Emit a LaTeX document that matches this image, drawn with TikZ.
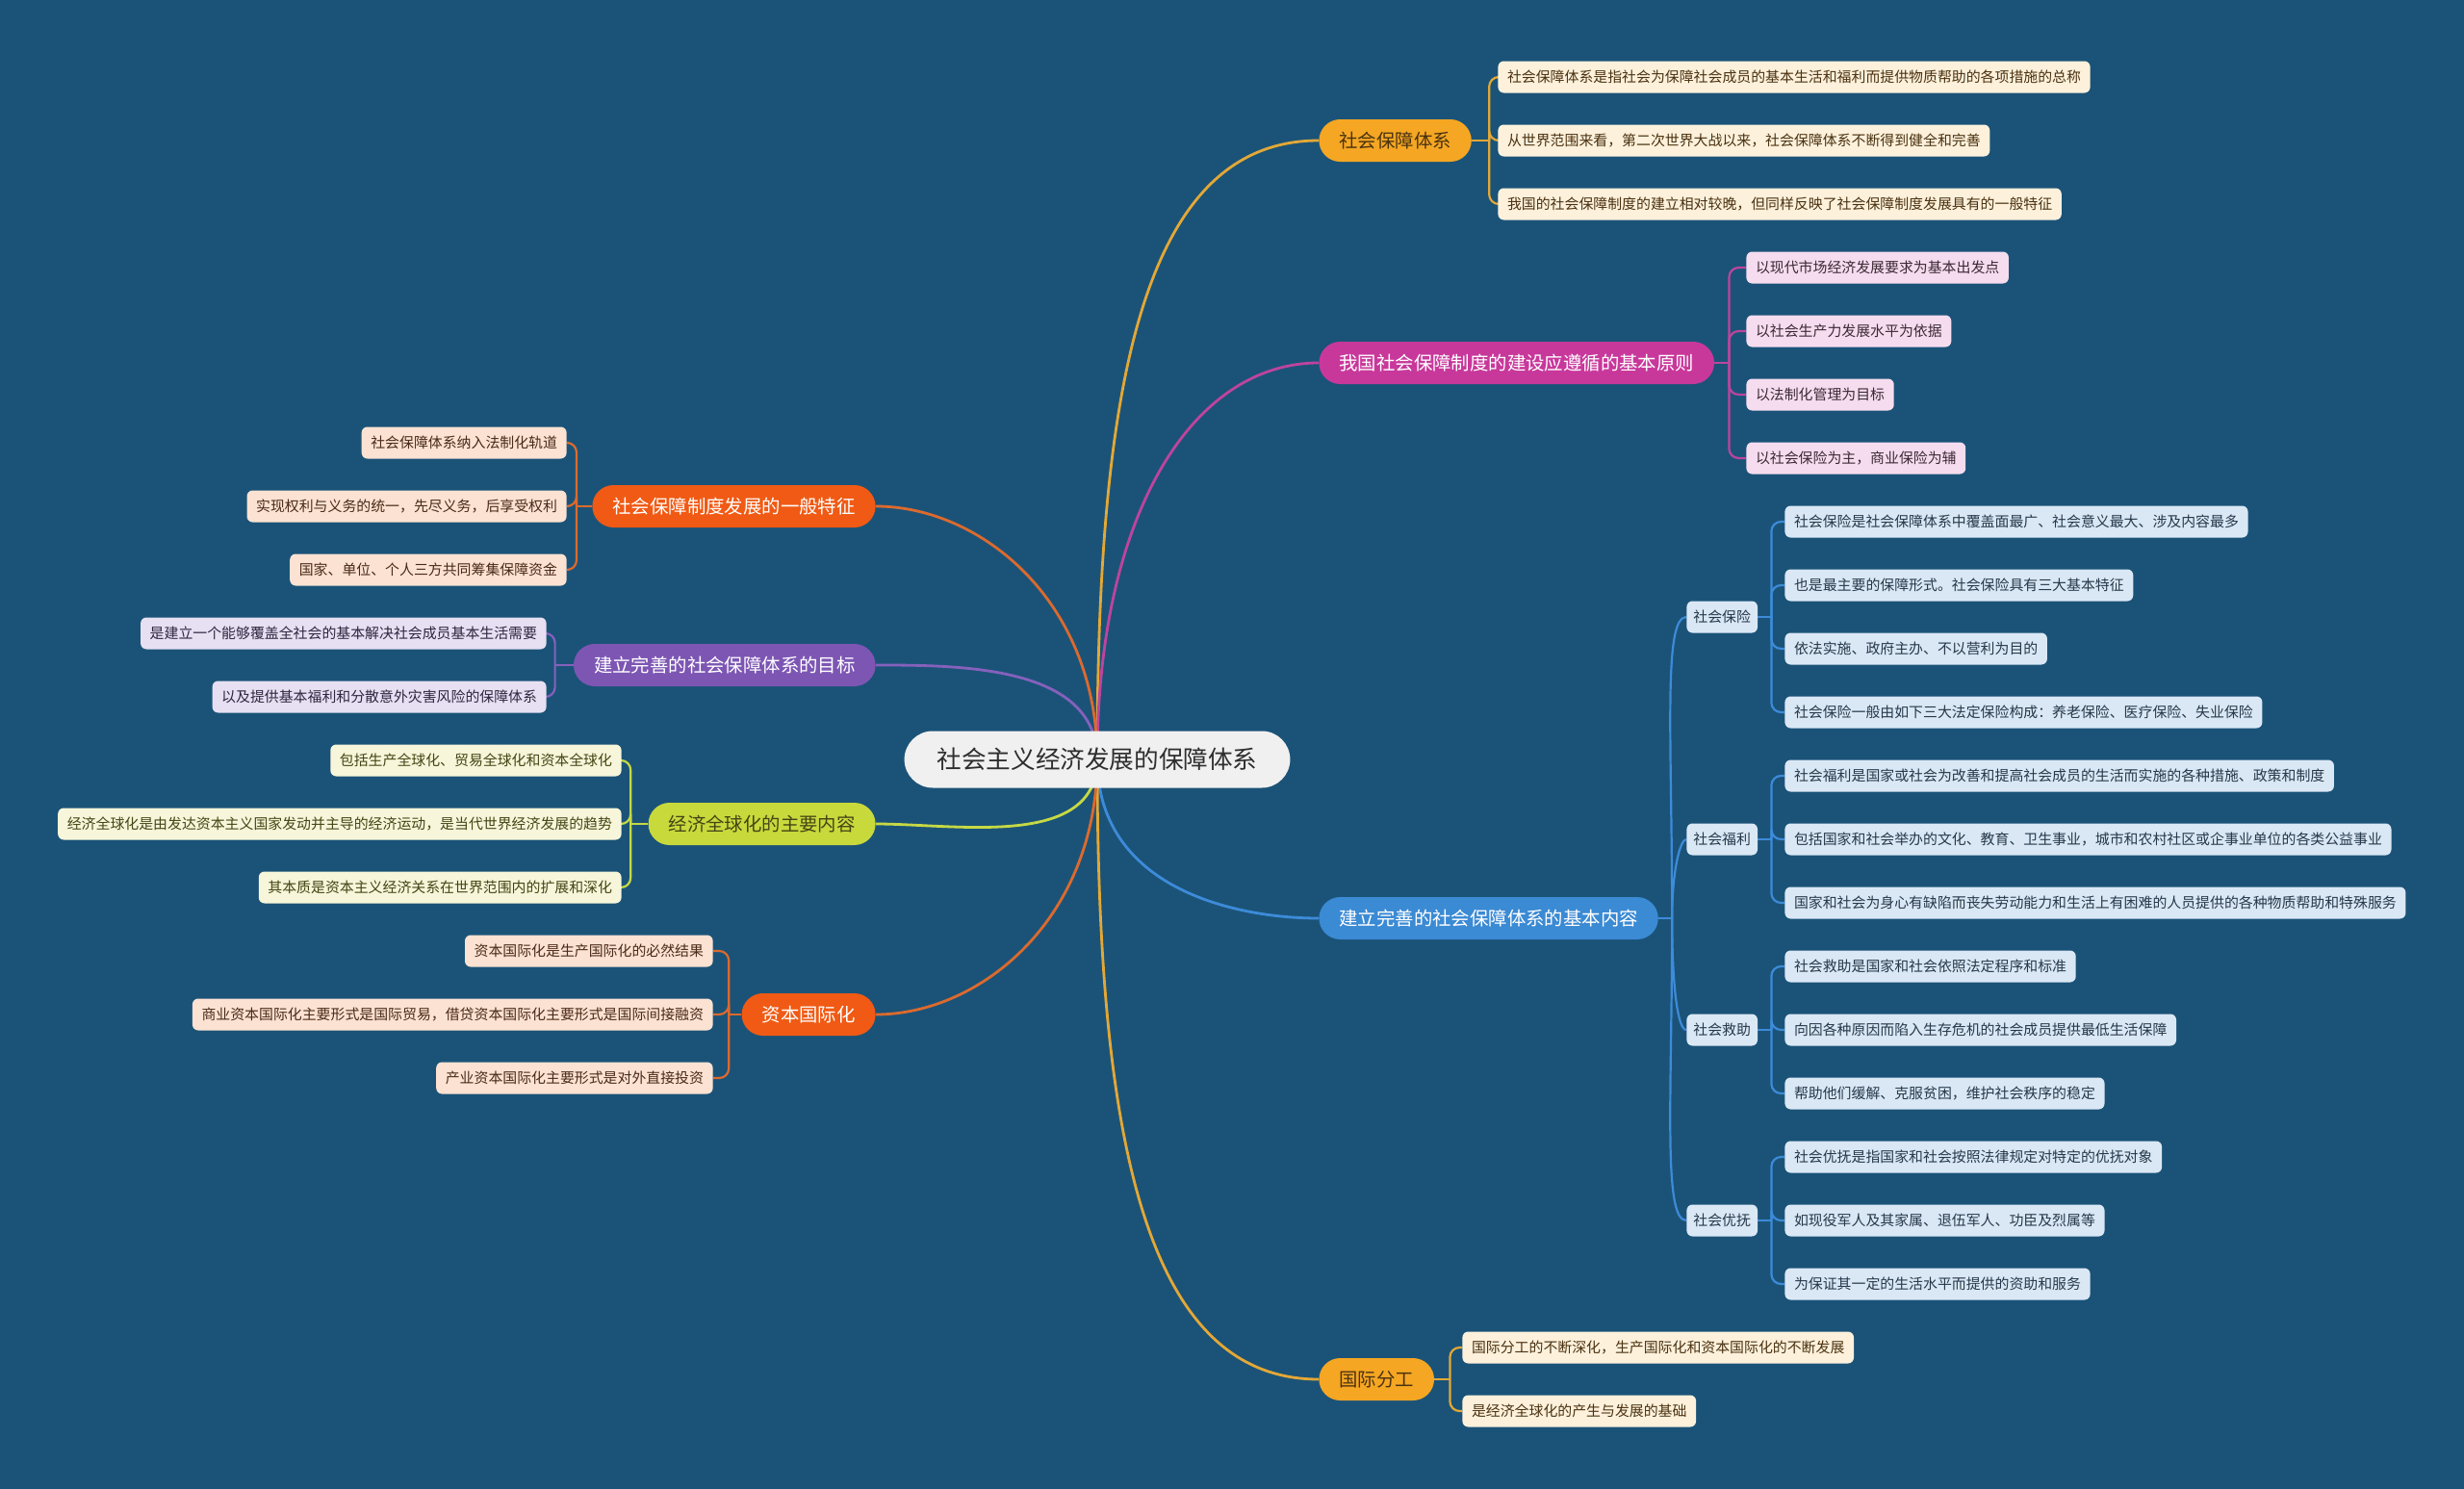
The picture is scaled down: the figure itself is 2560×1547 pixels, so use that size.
\documentclass[tikz,border=0pt]{standalone}
\usepackage{fontspec}
\setmainfont{Noto Sans CJK SC}

\definecolor{bgblue}{HTML}{1B5378}
\definecolor{rootfill}{HTML}{F0F0F0}
\definecolor{roottext}{HTML}{2E2E2E}
\definecolor{goldc}{HTML}{F5A623}
\definecolor{goldline}{HTML}{E3A836}
\definecolor{goldleaf}{HTML}{FDF1DC}
\definecolor{goldtext}{HTML}{4A3210}
\definecolor{pinkc}{HTML}{C8389B}
\definecolor{pinkline}{HTML}{BE449E}
\definecolor{pinkleaf}{HTML}{F6DCEF}
\definecolor{pinktext}{HTML}{3B2A35}
\definecolor{bluec}{HTML}{3B8AD4}
\definecolor{blueline}{HTML}{3D8BD9}
\definecolor{blueleaf}{HTML}{DAE8F5}
\definecolor{bluetext}{HTML}{26384A}
\definecolor{redc}{HTML}{F05A14}
\definecolor{redline}{HTML}{DC6A2E}
\definecolor{peachleaf}{HTML}{FCE2D2}
\definecolor{peachtext}{HTML}{4A2A18}
\definecolor{purplec}{HTML}{7D56B4}
\definecolor{purpleline}{HTML}{8561BC}
\definecolor{lavleaf}{HTML}{E6E0F2}
\definecolor{lavtext}{HTML}{2F2740}
\definecolor{limec}{HTML}{C8D93C}
\definecolor{limeline}{HTML}{C6D944}
\definecolor{limeleaf}{HTML}{F7F6DA}
\definecolor{limetext}{HTML}{454515}

\pgfdeclarelayer{background}
\pgfsetlayers{background,main}

\tikzset{
  root/.style={fill=rootfill, text=roottext, font=\fontsize{12.8pt}{15pt}\selectfont,
    minimum height=29.5pt, inner xsep=17pt, inner ysep=0pt, rounded corners=14.75pt},
  topic/.style={font=\fontsize{9.7pt}{12pt}\selectfont,
    minimum height=22pt, inner xsep=10.5pt, inner ysep=0pt, rounded corners=11pt},
  leaf/.style={font=\fontsize{7.45pt}{9pt}\selectfont,
    minimum height=16.5pt, inner xsep=4.8pt, inner ysep=0pt, rounded corners=3pt},
  sub/.style={leaf, inner xsep=3.5pt, fill=blueleaf, text=bluetext},
  leafgold/.style={leaf, fill=goldleaf, text=goldtext},
  leafpink/.style={leaf, fill=pinkleaf, text=pinktext},
  leafblue/.style={leaf, fill=blueleaf, text=bluetext},
  leafpeach/.style={leaf, fill=peachleaf, text=peachtext},
  leaflav/.style={leaf, fill=lavleaf, text=lavtext},
  leaflime/.style={leaf, fill=limeleaf, text=limetext},
  mainline/.style={line width=1.4pt},
  brace/.style={line width=1.1pt, rounded corners=5pt},
}

\begin{document}
\begin{tikzpicture}[x=0.5pt, y=-0.5pt]
  \useasboundingbox (0,0) rectangle (2560,1547);

  % centre
  \node[root] (root) at (1140,789) {社会主义经济发展的保障体系};

  % right side
  \node[topic, fill=goldc, text=goldtext, anchor=west] (b1) at (1370,146) {社会保障体系};
  \node[leafgold, anchor=west] (b1a) at (1556,80) {社会保障体系是指社会为保障社会成员的基本生活和福利而提供物质帮助的各项措施的总称};
  \node[leafgold, anchor=west] (b1b) at (1556,146) {从世界范围来看，第二次世界大战以来，社会保障体系不断得到健全和完善};
  \node[leafgold, anchor=west] (b1c) at (1556,212) {我国的社会保障制度的建立相对较晚，但同样反映了社会保障制度发展具有的一般特征};

  \node[topic, fill=pinkc, text=white, anchor=west] (b2) at (1370,377) {我国社会保障制度的建设应遵循的基本原则};
  \node[leafpink, anchor=west] (b2a) at (1814,278) {以现代市场经济发展要求为基本出发点};
  \node[leafpink, anchor=west] (b2b) at (1814,344) {以社会生产力发展水平为依据};
  \node[leafpink, anchor=west] (b2c) at (1814,410) {以法制化管理为目标};
  \node[leafpink, anchor=west] (b2d) at (1814,476) {以社会保险为主，商业保险为辅};

  \node[topic, fill=bluec, text=white, anchor=west] (b3) at (1370,954) {建立完善的社会保障体系的基本内容};
  \node[sub, anchor=west] (s1) at (1752,641) {社会保险};
  \node[leafblue, anchor=west] (s1a) at (1854,542) {社会保险是社会保障体系中覆盖面最广、社会意义最大、涉及内容最多};
  \node[leafblue, anchor=west] (s1b) at (1854,608) {也是最主要的保障形式。社会保险具有三大基本特征};
  \node[leafblue, anchor=west] (s1c) at (1854,674) {依法实施、政府主办、不以营利为目的};
  \node[leafblue, anchor=west] (s1d) at (1854,740) {社会保险一般由如下三大法定保险构成：养老保险、医疗保险、失业保险};
  \node[sub, anchor=west] (s2) at (1752,872) {社会福利};
  \node[leafblue, anchor=west] (s2a) at (1854,806) {社会福利是国家或社会为改善和提高社会成员的生活而实施的各种措施、政策和制度};
  \node[leafblue, anchor=west] (s2b) at (1854,872) {包括国家和社会举办的文化、教育、卫生事业，城市和农村社区或企事业单位的各类公益事业};
  \node[leafblue, anchor=west] (s2c) at (1854,938) {国家和社会为身心有缺陷而丧失劳动能力和生活上有困难的人员提供的各种物质帮助和特殊服务};
  \node[sub, anchor=west] (s3) at (1752,1070) {社会救助};
  \node[leafblue, anchor=west] (s3a) at (1854,1004) {社会救助是国家和社会依照法定程序和标准};
  \node[leafblue, anchor=west] (s3b) at (1854,1070) {向因各种原因而陷入生存危机的社会成员提供最低生活保障};
  \node[leafblue, anchor=west] (s3c) at (1854,1136) {帮助他们缓解、克服贫困，维护社会秩序的稳定};
  \node[sub, anchor=west] (s4) at (1752,1268) {社会优抚};
  \node[leafblue, anchor=west] (s4a) at (1854,1202) {社会优抚是指国家和社会按照法律规定对特定的优抚对象};
  \node[leafblue, anchor=west] (s4b) at (1854,1268) {如现役军人及其家属、退伍军人、功臣及烈属等};
  \node[leafblue, anchor=west] (s4c) at (1854,1334) {为保证其一定的生活水平而提供的资助和服务};

  \node[topic, fill=goldc, text=goldtext, anchor=west] (b4) at (1370,1433) {国际分工};
  \node[leafgold, anchor=west] (b4a) at (1519,1400) {国际分工的不断深化，生产国际化和资本国际化的不断发展};
  \node[leafgold, anchor=west] (b4b) at (1519,1466) {是经济全球化的产生与发展的基础};

  % left side
  \node[topic, fill=redc, text=white, anchor=east] (c1) at (910,526) {社会保障制度发展的一般特征};
  \node[leafpeach, anchor=east] (c1a) at (589,460) {社会保障体系纳入法制化轨道};
  \node[leafpeach, anchor=east] (c1b) at (589,526) {实现权利与义务的统一，先尽义务，后享受权利};
  \node[leafpeach, anchor=east] (c1c) at (589,592) {国家、单位、个人三方共同筹集保障资金};

  \node[topic, fill=purplec, text=white, anchor=east] (c2) at (910,691) {建立完善的社会保障体系的目标};
  \node[leaflav, anchor=east] (c2a) at (568,658) {是建立一个能够覆盖全社会的基本解决社会成员基本生活需要};
  \node[leaflav, anchor=east] (c2b) at (568,724) {以及提供基本福利和分散意外灾害风险的保障体系};

  \node[topic, fill=limec, text=limetext, anchor=east] (c3) at (910,856) {经济全球化的主要内容};
  \node[leaflime, anchor=east] (c3a) at (646,790) {包括生产全球化、贸易全球化和资本全球化};
  \node[leaflime, anchor=east] (c3b) at (646,856) {经济全球化是由发达资本主义国家发动并主导的经济运动，是当代世界经济发展的趋势};
  \node[leaflime, anchor=east] (c3c) at (646,922) {其本质是资本主义经济关系在世界范围内的扩展和深化};

  \node[topic, fill=redc, text=white, anchor=east] (c4) at (910,1054) {资本国际化};
  \node[leafpeach, anchor=east] (c4a) at (741,988) {资本国际化是生产国际化的必然结果};
  \node[leafpeach, anchor=east] (c4b) at (741,1054) {商业资本国际化主要形式是国际贸易，借贷资本国际化主要形式是国际间接融资};
  \node[leafpeach, anchor=east] (c4c) at (741,1120) {产业资本国际化主要形式是对外直接投资};

  % junctions
  \coordinate (b1j) at ([xshift=9pt]b1.east);
  \coordinate (b2j) at ([xshift=7.5pt]b2.east);
  \coordinate (b3j) at ([xshift=7pt]b3.east);
  \coordinate (b4j) at ([xshift=8pt]b4.east);
  \coordinate (c1j) at ([xshift=-8pt]c1.west);
  \coordinate (c2j) at ([xshift=-9.5pt]c2.west);
  \coordinate (c3j) at ([xshift=-9pt]c3.west);
  \coordinate (c4j) at ([xshift=-6.5pt]c4.west);

  \begin{pgfonlayer}{background}
    \fill[bgblue] (0,0) rectangle (2560,1547);

    % centre to topics
    \draw[mainline, goldline] (root.center) to[out=90, in=180, out looseness=1.4, in looseness=0.7] (b1.west);
    \draw[mainline, pinkline] (root.center) to[out=90, in=180, out looseness=1.4, in looseness=0.7] (b2.west);
    \draw[mainline, blueline] (root.center) to[out=270, in=180, out looseness=1.2, in looseness=0.8] (b3.west);
    \draw[mainline, goldline] (root.center) to[out=270, in=180, out looseness=1.4, in looseness=0.7] (b4.west);
    \draw[mainline, redline] (root.center) to[out=90, in=0, out looseness=1.2, in looseness=0.8] (c1.east);
    \draw[mainline, purpleline] (root.center) to[out=90, in=0, out looseness=1.0, in looseness=0.9] (c2.east);
    \draw[mainline, limeline] (root.center) to[out=270, in=0, out looseness=1.0, in looseness=0.9] (c3.east);
    \draw[mainline, redline] (root.center) to[out=270, in=0, out looseness=1.2, in looseness=0.8] (c4.east);

    % topics to leaves
    \draw[brace, goldline] (b1.east) -- (b1j);
    \foreach \l in {b1a,b1b,b1c} \draw[brace, goldline] (b1j) |- (\l.west);
    \draw[brace, pinkline] (b2.east) -- (b2j);
    \foreach \l in {b2a,b2b,b2c,b2d} \draw[brace, pinkline] (b2j) |- (\l.west);
    \draw[brace, goldline] (b4.east) -- (b4j);
    \foreach \l in {b4a,b4b} \draw[brace, goldline] (b4j) |- (\l.west);

    \draw[brace, redline] (c1.west) -- (c1j);
    \foreach \l in {c1a,c1b,c1c} \draw[brace, redline] (c1j) |- (\l.east);
    \draw[brace, purpleline] (c2.west) -- (c2j);
    \foreach \l in {c2a,c2b} \draw[brace, purpleline] (c2j) |- (\l.east);
    \draw[brace, limeline] (c3.west) -- (c3j);
    \foreach \l in {c3a,c3b,c3c} \draw[brace, limeline] (c3j) |- (\l.east);
    \draw[brace, redline] (c4.west) -- (c4j);
    \foreach \l in {c4a,c4b,c4c} \draw[brace, redline] (c4j) |- (\l.east);

    % basic content: second level
    \draw[brace, blueline] (b3.east) -- (b3j);
    \draw[brace, blueline] (b3j) to[out=90, in=180, out looseness=1.5, in looseness=0.2] (s1.west);
    \draw[brace, blueline] (b3j) to[out=90, in=180, out looseness=1.5, in looseness=0.2] (s2.west);
    \draw[brace, blueline] (b3j) to[out=270, in=180, out looseness=1.5, in looseness=0.2] (s3.west);
    \draw[brace, blueline] (b3j) to[out=270, in=180, out looseness=1.5, in looseness=0.2] (s4.west);
    \foreach \s/\ls in {s1/{s1a,s1b,s1c,s1d}, s2/{s2a,s2b,s2c}, s3/{s3a,s3b,s3c}, s4/{s4a,s4b,s4c}} {
      \coordinate (\s j) at ([xshift=7pt]\s.east);
      \draw[brace, blueline] (\s.east) -- (\s j);
      \foreach \l in \ls \draw[brace, blueline] (\s j) |- (\l.west);
    }
  \end{pgfonlayer}
\end{tikzpicture}
\end{document}
